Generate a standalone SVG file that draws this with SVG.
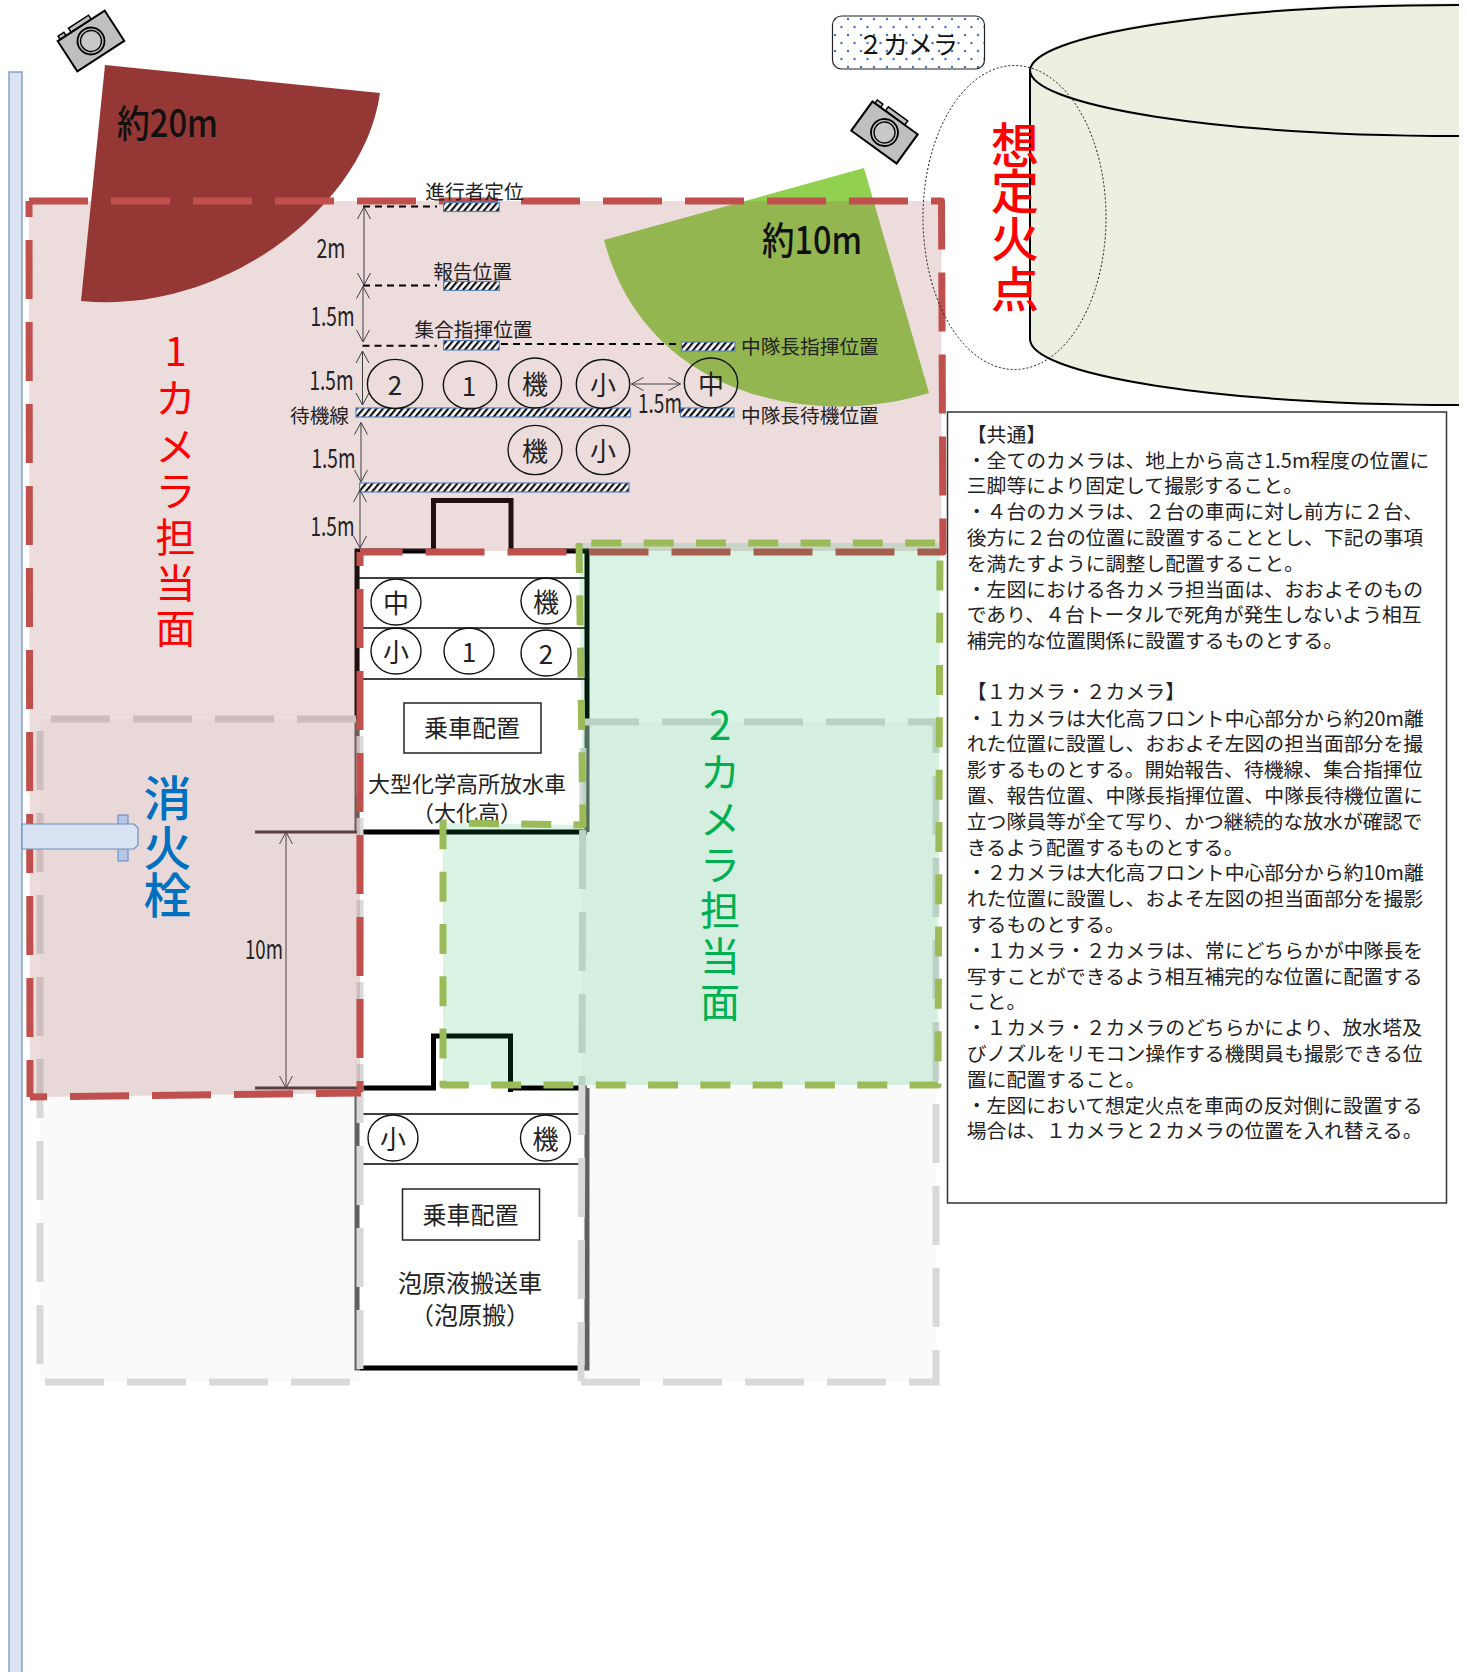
<svg xmlns="http://www.w3.org/2000/svg" width="1467" height="1672" viewBox="0 0 1467 1672">
<style>
text{font-family:"Noto Sans CJK JP","Noto Sans",sans-serif;fill:#111;dominant-baseline:central}
.m{text-anchor:middle}
.body{font-size:19.85px;fill:#222}
.lbl{font-size:19.7px;fill:#222}
.dim{font-size:27px;fill:#222}
.c{font-size:26px;fill:#222;text-anchor:middle}
.big{font-size:40px;text-anchor:middle}
.circ{fill:none;stroke:#111;stroke-width:1.4}
.veh{fill:none;stroke:#000;stroke-width:5}
.thin{stroke:#000;stroke-width:1.5}
.box{fill:#fff;stroke:#333;stroke-width:1.5}
.bar{fill:url(#hatch);stroke:#5b84c4;stroke-width:1.2}
.gray{fill:#f2f2f2;fill-opacity:.4;stroke:#d9d9d9;stroke-width:7;stroke-dasharray:59 23}
.red{fill:none;stroke:#c0504d;stroke-width:7;stroke-dasharray:59 23;stroke-linejoin:round}
.dash{fill:none;stroke:#000;stroke-width:2;stroke-dasharray:7 5}
.arr{fill:none;stroke:#404040;stroke-width:1;marker-start:url(#oa);marker-end:url(#oa)}
</style>
<defs>
<marker id="oa" markerUnits="userSpaceOnUse" markerWidth="16" markerHeight="16" refX="14" refY="8" orient="auto-start-reverse"><path d="M2,1.5L14,8L2,14.5" fill="none" stroke="#404040" stroke-width="1"/></marker>
<pattern id="hatch" patternUnits="userSpaceOnUse" width="5" height="5" patternTransform="rotate(40)"><rect width="5" height="5" fill="#fff"/><rect width="2.200" height="5" fill="#111"/></pattern>
<pattern id="dots" patternUnits="userSpaceOnUse" width="13" height="16"><rect width="13" height="16" fill="#fff"/><circle cx="3" cy="3" r="1.200" fill="#4472c4"/><circle cx="9.500" cy="11" r="1.200" fill="#4472c4"/></pattern>
<g id="cam"><path d="M-25,-18V-22H-18V-18ZM-12,-18V-23H12V-18Z" fill="#bfbfbf" stroke="#000" stroke-width="1.5"/><rect x="-28" y="-18" width="56" height="36" fill="#bfbfbf" stroke="#000" stroke-width="2"/><circle r="13.500" fill="#bfbfbf" stroke="#000" stroke-width="1.800"/><circle r="10.500" fill="#c8c8c8" stroke="#000" stroke-width="1.300"/></g>
</defs>
<rect width="1467" height="1672" fill="#fff"/>

<g id="wall"><rect x="9" y="72" width="13" height="1610" fill="#dae3f3" stroke="#7f9cc4" stroke-width="1.400"/></g>

<g id="tank"><path d="M1459,3A429,66 0 0 0 1030,69V339A429,66 0 0 0 1459,405Z" fill="#ebf0e0"/><path d="M1459,5A429,66 0 0 0 1030,70V339A429,66 0 0 0 1459,405M1030,70A429,66 0 0 0 1459,136" fill="none" stroke="#000" stroke-width="2"/></g>

<g id="sector2"><path d="M604,240L864,168L929,393C810,430 645,395 604,240Z" fill="#92d050"/></g>

<g id="vehicle1">
<path class="veh" d="M357,832V551H433.500V500.500H511V555M511,551H587V832M357,832H587"/>
<path class="thin" d="M359,578H585M359,628H585M359,679H585"/>
<rect x="404" y="703" width="137" height="50" fill="#fff" stroke="#222" stroke-width="1.500"/>
<text class="m" x="472" y="726" font-size="24" style="fill:#222">乗車配置</text>
<text class="m" x="467" y="782" font-size="22" style="fill:#222">大型化学高所放水車</text>
<text class="m" x="467" y="811" font-size="22" style="fill:#222">（大化高）</text>
<ellipse class="circ" cx="396" cy="602" rx="25" ry="23"/><text class="c" x="396" y="601">中</text>
<ellipse class="circ" cx="546" cy="601" rx="25" ry="23"/><text class="c" x="546" y="600">機</text>
<ellipse class="circ" cx="396" cy="651" rx="25" ry="23"/><text class="c" x="396" y="650">小</text>
<ellipse class="circ" cx="469" cy="651" rx="25" ry="23"/><text class="c" x="469" y="650">1</text>
<ellipse class="circ" cx="546" cy="653" rx="25" ry="23"/><text class="c" x="546" y="652">2</text>
</g>

<g id="vehicle2">
<path class="veh" d="M357,1088H433.500V1036H510.500V1092M510.500,1088H587M357,1088V1368H587V1088"/>
<path class="thin" d="M360,1114H585M360,1164H585"/>
<rect x="402.500" y="1189" width="137" height="51" fill="#fff" stroke="#222" stroke-width="1.500"/>
<text class="m" x="470.500" y="1213" font-size="24" style="fill:#222">乗車配置</text>
<text class="m" x="470" y="1281" font-size="24" style="fill:#222">泡原液搬送車</text>
<text class="m" x="470" y="1313" font-size="24" style="fill:#222">（泡原搬）</text>
<ellipse class="circ" cx="393" cy="1138" rx="25" ry="23"/><text class="c" x="393" y="1137">小</text>
<ellipse class="circ" cx="545.500" cy="1138" rx="25" ry="23"/><text class="c" x="545.500" y="1137">機</text>
</g>

<g id="area-gray-left"><path class="gray" d="M356,719H40V1382H360V719Z"/></g>
<g id="area-gray-right"><path class="gray" d="M581,1382H936V722H583Z"/></g>

<g id="connectors">
<path d="M255,832H357M255,1088H357" fill="none" stroke="#4a3a3a" stroke-width="3"/>
<path class="arr" d="M286,832V1088"/>
</g>

<g id="area1-fill"><path d="M29,201H941.500V551H360V1093L30,1097Z" fill="#a05050" fill-opacity=".2"/></g>
<g id="sector1"><path d="M105,65L380,93C365,205 225,315 81,301Z" fill="#953735"/></g>
<g id="area1-line">
<path class="red" d="M29,201H941.500L943,552H360"/>
<path class="red" d="M360,552V1092L361,1093" stroke-dashoffset="45"/>
<path class="red" d="M361,1093L30,1097" stroke-dashoffset="14"/>
<path class="red" d="M30,1097L29,201" stroke-dashoffset="22"/>
</g>
<g id="area2"><path d="M579,543L583,825L443,823V1085H938L940,543Z" fill="#00b050" fill-opacity=".15" stroke="#9bbb59" stroke-width="7" stroke-dasharray="30 22.300" stroke-linejoin="round"/></g>

<g id="hydrant">
<rect x="118" y="815" width="10" height="46" fill="#b4c7e7" stroke="#5b84c4" stroke-width="1"/>
<path d="M22,824H134L138,828V845L134,849H22Z" fill="#dae3f3" stroke="#6f8dba" stroke-width="1.200"/>
</g>

<g id="positions">
<path class="dash" d="M363,206.500H437M363,285.500H437M362.500,345.700H437M501,344H681"/>
<rect class="bar" x="443.600" y="202.500" width="55.700" height="9"/>
<rect class="bar" x="443.600" y="281.400" width="55.700" height="9"/>
<rect class="bar" x="443.600" y="340.500" width="55.700" height="9.500"/>
<rect class="bar" x="681.500" y="342" width="53.500" height="9"/>
<rect class="bar" x="356" y="408" width="274.500" height="9"/>
<rect class="bar" x="680.500" y="408" width="53.500" height="9"/>
<rect class="bar" x="359.600" y="483" width="269.400" height="9"/>
<text class="lbl m" x="474.500" y="190">進行者定位</text>
<text class="lbl m" x="472.500" y="270">報告位置</text>
<text class="lbl m" x="473.500" y="328">集合指揮位置</text>
<text class="lbl" x="741" y="345">中隊長指揮位置</text>
<text class="lbl" x="741" y="414">中隊長待機位置</text>
<text class="lbl" x="290" y="414">待機線</text>
</g>

<g id="dims">
<path class="arr" d="M364,207V285"/><path class="arr" d="M363,286.500V342"/><path class="arr" d="M362.500,351V405"/><path class="arr" d="M361,422.500V482"/><path class="arr" d="M360,490V548"/><path class="arr" d="M631.500,384H680.500"/>
<text class="dim" x="316.500" y="246" textLength="29" lengthAdjust="spacingAndGlyphs">2m</text>
<text class="dim" x="310.500" y="314" textLength="44" lengthAdjust="spacingAndGlyphs">1.5m</text>
<text class="dim" x="309.500" y="378" textLength="44" lengthAdjust="spacingAndGlyphs">1.5m</text>
<text class="dim" x="311.500" y="456" textLength="44" lengthAdjust="spacingAndGlyphs">1.5m</text>
<text class="dim" x="310.500" y="524" textLength="44" lengthAdjust="spacingAndGlyphs">1.5m</text>
<text class="dim" x="638" y="401" textLength="44" lengthAdjust="spacingAndGlyphs">1.5m</text>
<text class="dim" x="245" y="947" textLength="38" lengthAdjust="spacingAndGlyphs">10m</text>
</g>

<g id="crew">
<ellipse class="circ" cx="395" cy="384" rx="27.600" ry="24.600"/><text class="c" x="395" y="383">2</text>
<ellipse class="circ" cx="470" cy="385" rx="26.700" ry="24"/><text class="c" x="469" y="384">1</text>
<ellipse class="circ" cx="535" cy="383" rx="26.500" ry="25"/><text class="c" x="535" y="382">機</text>
<ellipse class="circ" cx="603" cy="384" rx="26.700" ry="24.500"/><text class="c" x="603" y="383">小</text>
<ellipse class="circ" cx="711" cy="383" rx="26.700" ry="25"/><text class="c" x="711" y="382">中</text>
<ellipse class="circ" cx="535" cy="450" rx="27" ry="24.600"/><text class="c" x="535" y="449">機</text>
<ellipse class="circ" cx="603" cy="450" rx="26.700" ry="24.600"/><text class="c" x="603" y="449">小</text>
</g>

<g id="camera1"><use href="#cam" transform="translate(91,41) rotate(-33)"/></g>
<g id="camera2"><use href="#cam" transform="translate(884.500,132.500) rotate(36)"/></g>
<g id="camera2-label"><rect x="832.500" y="16" width="152" height="53" rx="9" fill="url(#dots)" stroke="#222" stroke-width="1.200"/><text class="m" x="908" y="43" font-size="25">２カメラ</text></g>

<g id="fire-point"><ellipse cx="1014.500" cy="217.500" rx="91.500" ry="152" fill="none" stroke="#111" stroke-width="1" stroke-dasharray="2 2"/>
<text class="m" x="1015 1015 1015 1015" y="142 188 236 286" font-size="48" style="fill:#f00;font-weight:500">想定火点</text></g>

<text x="117" y="120" font-size="38" textLength="101" lengthAdjust="spacingAndGlyphs" style="font-weight:500">約20m</text>
<text x="762" y="237" font-size="38" textLength="100" lengthAdjust="spacingAndGlyphs" style="font-weight:500">約10m</text>
<text class="big" x="175.500 175.500 175.500 175.500 175.500 175.500 175.500" y="349 396 444 489 535 581 626" style="fill:#f00">1カメラ担当面</text>
<text class="big" x="720 720 720 720 720 720 720" y="723 770 817 862.500 908 954 1000" style="fill:#00b050">2カメラ担当面</text>
<text class="m" x="167.500 167.500 167.500" y="795 845 892" font-size="48" style="fill:#0070c0;font-weight:500">消火栓</text>

<g id="notes"><rect class="box" x="947.500" y="412" width="499" height="791"/>
<text class="body" x="966.700" y="433">【共通】</text>
<text class="body" x="966.700" y="459">・全てのカメラは、地上から高さ1.5m程度の位置に</text>
<text class="body" x="966.700" y="484.800">三脚等により固定して撮影すること。</text>
<text class="body" x="966.700" y="510.600">・４台のカメラは、２台の車両に対し前方に２台、</text>
<text class="body" x="966.700" y="536.400">後方に２台の位置に設置することとし、下記の事項</text>
<text class="body" x="966.700" y="562.200">を満たすように調整し配置すること。</text>
<text class="body" x="966.700" y="588">・左図における各カメラ担当面は、おおよそのもの</text>
<text class="body" x="966.700" y="613.800">であり、４台トータルで死角が発生しないよう相互</text>
<text class="body" x="966.700" y="639.600">補完的な位置関係に設置するものとする。</text>
<text class="body" x="966.700" y="690.500">【１カメラ・２カメラ】</text>
<text class="body" x="966.700" y="717">・１カメラは大化高フロント中心部分から約20m離</text>
<text class="body" x="966.700" y="742.800">れた位置に設置し、おおよそ左図の担当面部分を撮</text>
<text class="body" x="966.700" y="768.600">影するものとする。開始報告、待機線、集合指揮位</text>
<text class="body" x="966.700" y="794.400">置、報告位置、中隊長指揮位置、中隊長待機位置に</text>
<text class="body" x="966.700" y="820.200">立つ隊員等が全て写り、かつ継続的な放水が確認で</text>
<text class="body" x="966.700" y="846">きるよう配置するものとする。</text>
<text class="body" x="966.700" y="871.800">・２カメラは大化高フロント中心部分から約10m離</text>
<text class="body" x="966.700" y="897.600">れた位置に設置し、およそ左図の担当面部分を撮影</text>
<text class="body" x="966.700" y="923.400">するものとする。</text>
<text class="body" x="966.700" y="949.200">・１カメラ・２カメラは、常にどちらかが中隊長を</text>
<text class="body" x="966.700" y="975">写すことができるよう相互補完的な位置に配置する</text>
<text class="body" x="966.700" y="1000.800">こと。</text>
<text class="body" x="966.700" y="1026.600">・１カメラ・２カメラのどちらかにより、放水塔及</text>
<text class="body" x="966.700" y="1052.400">びノズルをリモコン操作する機関員も撮影できる位</text>
<text class="body" x="966.700" y="1078.200">置に配置すること。</text>
<text class="body" x="966.700" y="1104">・左図において想定火点を車両の反対側に設置する</text>
<text class="body" x="966.700" y="1129.800">場合は、１カメラと２カメラの位置を入れ替える。</text>
</g>
</svg>
